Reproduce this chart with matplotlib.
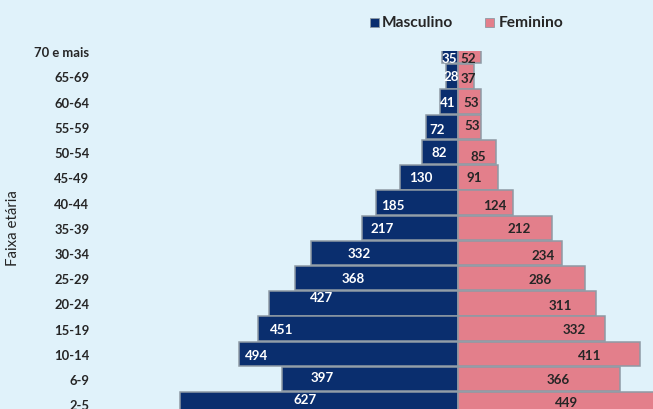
import matplotlib
matplotlib.use("Agg")
import matplotlib.pyplot as plt
from matplotlib.patches import Rectangle

# ---- data ----
faixas = ["70 e mais", "65-69", "60-64", "55-59", "50-54", "45-49", "40-44",
          "35-39", "30-34", "25-29", "20-24", "15-19", "10-14", "6-9", "2-5"]
masculino = [35, 28, 41, 72, 82, 130, 185, 217, 332, 368, 427, 451, 494, 397, 627]
feminino = [52, 37, 53, 53, 85, 91, 124, 212, 234, 286, 311, 332, 411, 366, 449]

# label positions (data units along x) as seen in the original
masc_label_x = [-20, -16, -23, -47, -43, -84, -147, -172, -223, -237, -307, -397, -454, -307, -345]
fem_label_x = [23, 23, 29, 32, 45, 36, 84, 138, 192, 185, 230, 262, 298, 226, 244]
masc_label_dy = [0.27, 0, 0, 0.1, 0, 0, 0.08, 0, 0, 0, -0.25, 0, 0.05, -0.08, -0.2]
fem_label_dy = [0.27, 0.05, 0, -0.08, 0.15, 0, 0.08, 0, 0.1, 0.05, 0.05, 0, 0.05, 0, -0.1]

# ---- style ----
W, H = 653, 410
bg = "#E0F2FA"
navy = "#0A2E6E"
pink = "#E37F8B"
edge = "#8E9AA4"
txt = "#262626"
font = "Lato"

fig = plt.figure(figsize=(W / 100, H / 100), dpi=100, facecolor=bg)
ax_left, ax_top = 170, 52
ax = fig.add_axes([ax_left / W, 0, (W - ax_left) / W, (H - ax_top) / H])
ax.set_facecolor(bg)

y = list(range(len(faixas)))
ax.barh(y, [-v for v in masculino], height=0.97, color=navy, edgecolor=edge, linewidth=1.1)
ax.barh(y, feminino, height=0.97, color=pink, edgecolor=edge, linewidth=1.1)

center_px = 458
scale = 0.443  # px per unit
ax.set_xlim((ax_left - center_px) / scale, (W - center_px) / scale)
ax.set_ylim(14.19, -0.01)

for i in y:
    ax.text(masc_label_x[i], i + masc_label_dy[i], str(masculino[i]), color="white",
            ha="center", va="center", fontsize=9.6, fontweight="bold", family=font, clip_on=True)
    ax.text(fem_label_x[i], i + fem_label_dy[i], str(feminino[i]), color=txt,
            ha="center", va="center", fontsize=9.6, fontweight="bold", family=font, clip_on=True)

ax.set_yticks(y)
ax.set_yticklabels(faixas, fontsize=9.4, fontweight="bold", family=font, color=txt)
ax.tick_params(axis="y", length=0, pad=58)
ax.set_xticks([])
for s in ax.spines.values():
    s.set_visible(False)

fig.text(13 / W, 1 - 228 / H, "Faixa etária", rotation=90, ha="center", va="center",
         fontsize=10.8, family=font, color=txt)

# legend
for (sx, tx, col, lab) in [(374, 382, navy, "Masculino"), (489, 499, pink, "Feminino")]:
    fig.patches.append(Rectangle(((sx - 4) / W, 1 - 28 / H), 9 / W, 9 / H,
                                 transform=fig.transFigure, facecolor=col, edgecolor=edge, lw=0.6))
    fig.text(tx / W, 1 - 23 / H, lab, ha="left", va="center", fontsize=11.2,
             fontweight="bold", family=font, color=txt)

fig.savefig("out.png", dpi=100, facecolor=bg)
